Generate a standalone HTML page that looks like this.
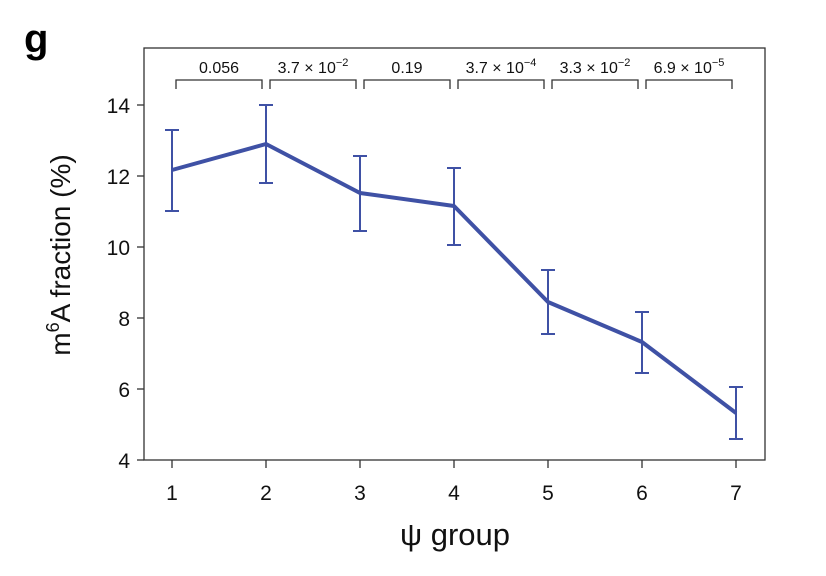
<!DOCTYPE html>
<html><head><style>body{margin:0;background:#fff}</style></head><body>
<svg width="826" height="571" xmlns="http://www.w3.org/2000/svg" font-family="Liberation Sans, sans-serif">
<text x="24" y="52" font-size="40" font-weight="bold">g</text>
<rect x="144" y="48" width="621" height="412" fill="none" stroke="#333" stroke-width="1.3"/>
<g stroke="#333" stroke-width="1.3">
<line x1="137" y1="460" x2="144" y2="460"/><line x1="137" y1="389" x2="144" y2="389"/><line x1="137" y1="318" x2="144" y2="318"/><line x1="137" y1="247" x2="144" y2="247"/><line x1="137" y1="176" x2="144" y2="176"/><line x1="137" y1="105" x2="144" y2="105"/>
<line x1="172" y1="460" x2="172" y2="468"/><line x1="266" y1="460" x2="266" y2="468"/><line x1="360" y1="460" x2="360" y2="468"/><line x1="454" y1="460" x2="454" y2="468"/><line x1="548" y1="460" x2="548" y2="468"/><line x1="642" y1="460" x2="642" y2="468"/><line x1="736" y1="460" x2="736" y2="468"/>
</g>
<g font-size="21" text-anchor="end" fill="#111">
<text x="130" y="468">4</text><text x="130" y="397">6</text><text x="130" y="326">8</text><text x="130" y="255">10</text><text x="130" y="184">12</text><text x="130" y="113">14</text>
</g>
<g font-size="21" text-anchor="middle" fill="#111">
<text x="172" y="500">1</text><text x="266" y="500">2</text><text x="360" y="500">3</text><text x="454" y="500">4</text><text x="548" y="500">5</text><text x="642" y="500">6</text><text x="736" y="500">7</text>
</g>
<text x="455" y="545" font-size="31" text-anchor="middle" fill="#111">ψ group</text>
<text transform="translate(70,255) rotate(-90)" font-size="28" text-anchor="middle" fill="#111">m<tspan dy="-11" font-size="18">6</tspan><tspan dy="11">A fraction (%)</tspan></text>
<g fill="none" stroke="#333" stroke-width="1.3">
<path d="M176 89V80H262V89"/><path d="M270 89V80H356V89"/><path d="M364 89V80H450V89"/><path d="M458 89V80H544V89"/><path d="M552 89V80H638V89"/><path d="M646 89V80H732V89"/>
</g>
<g font-size="16" text-anchor="middle" fill="#111">
<text x="219" y="73">0.056</text>
<text x="313" y="73">3.7 × 10<tspan dy="-7" font-size="11">−2</tspan></text>
<text x="407" y="73">0.19</text>
<text x="501" y="73">3.7 × 10<tspan dy="-7" font-size="11">−4</tspan></text>
<text x="595" y="73">3.3 × 10<tspan dy="-7" font-size="11">−2</tspan></text>
<text x="689" y="73">6.9 × 10<tspan dy="-7" font-size="11">−5</tspan></text>
</g>
<g stroke="#3f51a5" stroke-width="2" fill="none">
<path d="M172 130V211M165 130H179M165 211H179"/>
<path d="M266 105V183M259 105H273M259 183H273"/>
<path d="M360 156V231M353 156H367M353 231H367"/>
<path d="M454 168V245M447 168H461M447 245H461"/>
<path d="M548 270V334M541 270H555M541 334H555"/>
<path d="M642 312V373M635 312H649M635 373H649"/>
<path d="M736 387V439M729 387H743M729 439H743"/>
</g>
<polyline points="172,170 266,144 360,193 454,206 548,302 642,342 736,413" fill="none" stroke="#3f51a5" stroke-width="4" stroke-linejoin="round"/>
</svg>
</body></html>
